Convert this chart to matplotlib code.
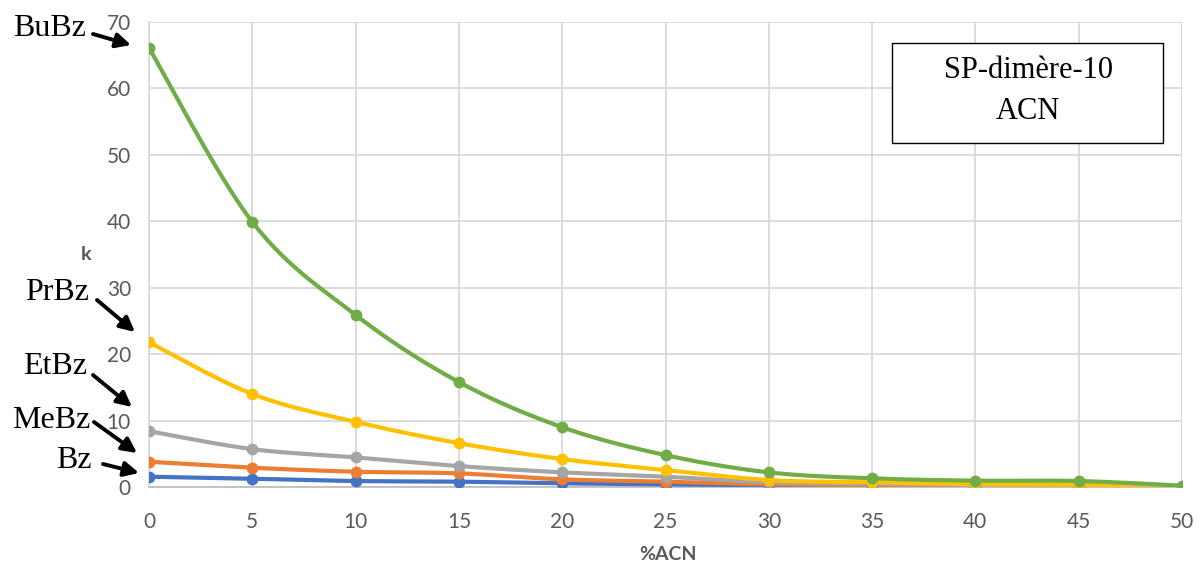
import numpy as np
import matplotlib
matplotlib.use("Agg")
import matplotlib.pyplot as plt
from matplotlib.patches import Rectangle, FancyArrowPatch

# %ACN values
acn = [0, 5, 10, 15, 20, 25, 30, 35, 40, 45, 50]

# retention factor k for each solute
k_bz = [1.55, 1.25, 0.9, 0.8, 0.55, 0.4, 0.25, 0.15, 0.12, 0.1, 0.05]
k_mebz = [3.8, 2.9, 2.3, 2.05, 1.15, 0.8, 0.4, 0.3, 0.2, 0.2, 0.05]
k_etbz = [8.4, 5.7, 4.45, 3.15, 2.2, 1.55, 0.7, 0.45, 0.3, 0.3, 0.05]
k_prbz = [21.8, 14.0, 9.8, 6.6, 4.2, 2.55, 1.05, 0.7, 0.4, 0.35, 0.02]
k_bubz = [66.1, 39.9, 25.9, 15.8, 9.0, 4.8, 2.2, 1.3, 0.95, 0.9, 0.2]

series = [
    ("Bz", k_bz, "#4472C4"),
    ("MeBz", k_mebz, "#ED7D31"),
    ("EtBz", k_etbz, "#A5A5A5"),
    ("PrBz", k_prbz, "#FFC000"),
    ("BuBz", k_bubz, "#70AD47"),
]

x_ticks = [0, 5, 10, 15, 20, 25, 30, 35, 40, 45, 50]
y_ticks = [0, 10, 20, 30, 40, 50, 60, 70]


def smooth(xs, ys, n=30):
    """Catmull-Rom style Bezier smoothing through every point."""
    p = np.column_stack([xs, ys]).astype(float)
    pts = np.vstack([p[0], p, p[-1]])
    out = []
    t = np.linspace(0, 1, n)[:, None]
    for i in range(1, len(pts) - 2):
        p0, p1, p2, p3 = pts[i - 1], pts[i], pts[i + 1], pts[i + 2]
        b1 = p1 + (p2 - p0) / 6.0
        b2 = p2 - (p3 - p1) / 6.0
        seg = ((1 - t) ** 3) * p1 + 3 * ((1 - t) ** 2) * t * b1 \
            + 3 * (1 - t) * t ** 2 * b2 + t ** 3 * p2
        out.append(seg if i == 1 else seg[1:])
    seg = np.vstack(out)
    return seg[:, 0], seg[:, 1]


W, H = 1203, 566
fig = plt.figure(figsize=(W / 100, H / 100), dpi=100)
ax = fig.add_axes([149 / W, 1 - 487 / H, (1182 - 149) / W, (487 - 22) / H])

grid_c = "#D9D9D9"
for name, vals, col in series:
    sx, sy = smooth(acn, vals)
    ax.plot(sx, sy, color=col, lw=3.0, solid_capstyle="round", zorder=3)
    ax.plot(acn, vals, "o", color=col, ms=7.5, zorder=4)

ax.set_xlim(0, 50)
ax.set_ylim(0, 70)
ax.set_xticks(x_ticks)
ax.set_yticks(y_ticks)
ax.grid(True, color=grid_c, lw=1.3, zorder=0)
ax.set_axisbelow(True)
for s in ["top", "right"]:
    ax.spines[s].set_visible(False)
ax.spines["left"].set_color(grid_c)
ax.spines["bottom"].set_color("#BFBFBF")
ax.spines["left"].set_linewidth(1.3)
ax.spines["bottom"].set_linewidth(1.3)
ax.tick_params(length=0, labelsize=15, labelcolor="#595959")
ax.tick_params(axis="y", pad=13)
ax.tick_params(axis="x", pad=18)
for lab in ax.get_xticklabels() + ax.get_yticklabels():
    lab.set_fontfamily("Lato")


def px(x, y):
    return (x / W, 1 - y / H)


fig.text(*px(668, 555), "%ACN", fontsize=14, fontweight="bold", color="#595959",
         family="Lato", ha="center", va="center")
fig.text(*px(86, 255), "k", fontsize=14, fontweight="bold", color="#595959",
         family="Lato", ha="center", va="center")

# solute labels with arrows
labels = [
    ("BuBz", (49, 29), (93, 34), (131, 45)),
    ("PrBz", (57, 293), (97, 300), (135, 332)),
    ("EtBz", (55, 366), (93, 375), (132, 407)),
    ("MeBz", (51, 421), (94, 422), (137, 453)),
    ("Bz", (74, 461), (103, 464), (139, 473)),
]
for txt, tpos, a0, a1 in labels:
    fig.text(*px(*tpos), txt, fontsize=23, family="Liberation Serif",
             ha="center", va="center", color="black")
    fig.add_artist(FancyArrowPatch(
        px(*a0), px(*a1), transform=fig.transFigure,
        arrowstyle="-|>", mutation_scale=22, lw=2.8, color="black",
        shrinkA=0, shrinkB=0))

# title box
fig.add_artist(Rectangle(px(892, 143), (1163 - 892) / W, (143 - 43) / H,
                         transform=fig.transFigure, fill=True, facecolor="white",
                         edgecolor="black", lw=1.0, zorder=5))
fig.text(*px(1028, 71), "SP-dimère-10", fontsize=22, family="Liberation Serif",
         ha="center", va="center", zorder=6)
fig.text(*px(1028, 111), "ACN", fontsize=22, family="Liberation Serif",
         ha="center", va="center", zorder=6)

fig.savefig("out.png", dpi=100)
